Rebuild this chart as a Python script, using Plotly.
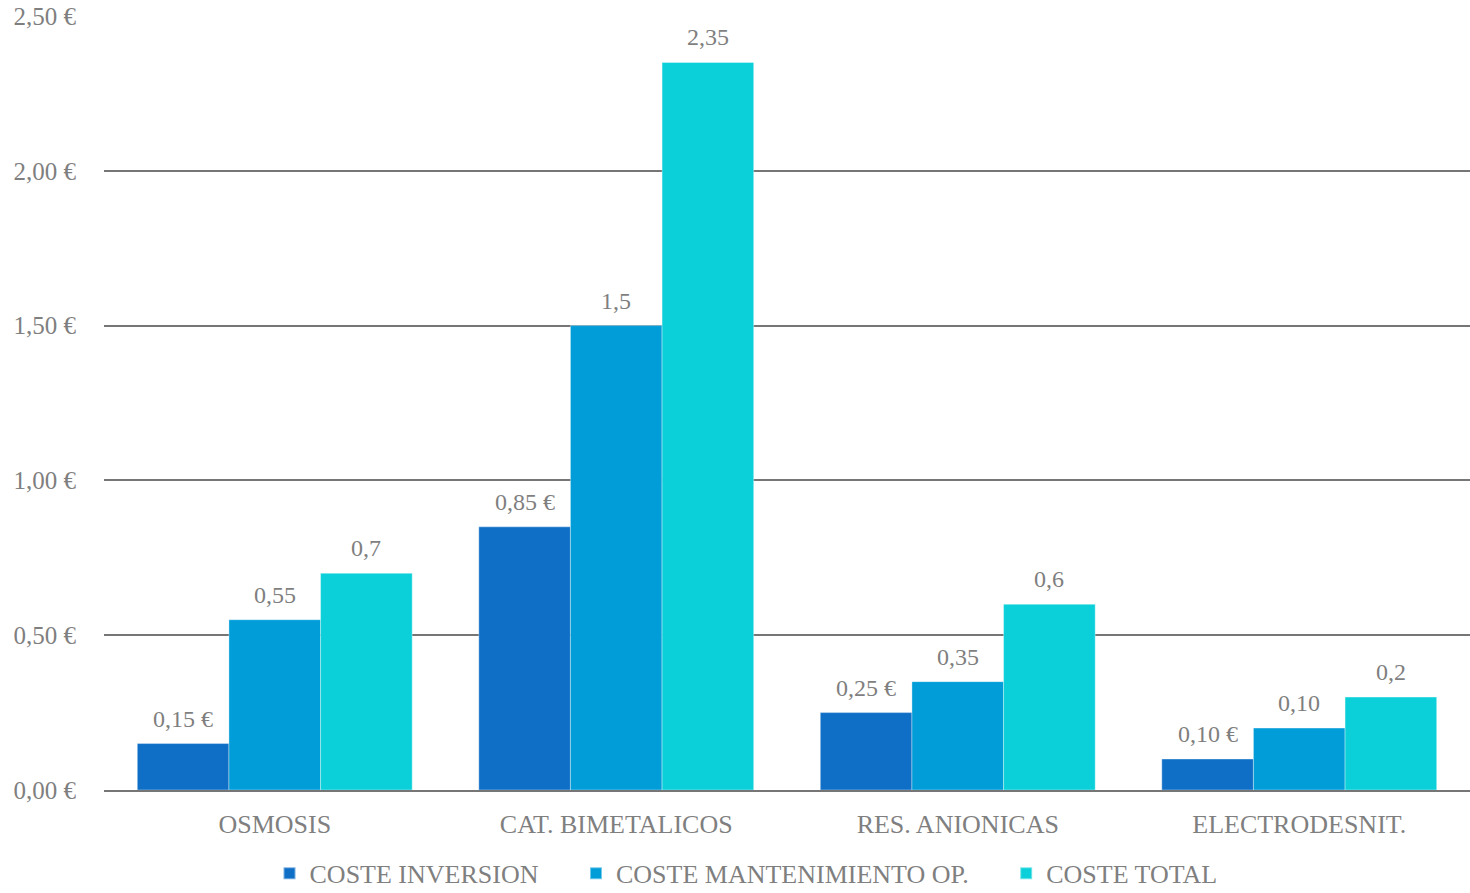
import plotly.graph_objects as go

categories = ["OSMOSIS", "CAT. BIMETALICOS", "RES. ANIONICAS", "ELECTRODESNIT."]
series_names = ["COSTE INVERSION", "COSTE MANTENIMIENTO OP.", "COSTE TOTAL"]
coste_inversion = [0.15, 0.85, 0.25, 0.10]
coste_mantenimiento = [0.55, 1.50, 0.35, 0.20]
coste_total = [0.70, 2.35, 0.60, 0.30]
labels_inversion = ["0,15 €", "0,85 €", "0,25 €", "0,10 €"]
labels_mantenimiento = ["0,55", "1,5", "0,35", "0,10"]
labels_total = ["0,7", "2,35", "0,6", "0,2"]
tick_vals = [0, 0.5, 1.0, 1.5, 2.0, 2.5]
tick_text = ["0,00 €", "0,50 €", "1,00 €", "1,50 €", "2,00 €", "2,50 €"]

colors = ["#0F6FC6", "#009DD9", "#0BD0D9"]
grey = "#7F7F7F"
font_family = "Liberation Serif, DejaVu Serif, serif"

values = [coste_inversion, coste_mantenimiento, coste_total]
labels = [labels_inversion, labels_mantenimiento, labels_total]
legend_names = [series_names[0] + "\u00a0" * 5, series_names[1] + "\u00a0" * 5, series_names[2]]

fig = go.Figure()
for name, vals, col in zip(legend_names, values, colors):
    fig.add_trace(go.Bar(
        x=categories, y=vals, name=name,
        marker=dict(color=col, line=dict(color="rgba(255,255,255,0.45)", width=0.8)),
        hoverinfo="x+y",
    ))

# data labels as annotations, offset per series within group
bar_px = 91.7
for i, (vals, labs) in enumerate(zip(values, labels)):
    for c, v, t in zip(categories, vals, labs):
        fig.add_annotation(
            x=c, y=v, text=t, showarrow=False,
            xshift=(i - 1) * bar_px, yshift=10, yanchor="bottom",
            font=dict(family=font_family, size=24, color=grey),
        )

fig.update_layout(
    width=1470, height=893,
    margin=dict(l=104, r=0, t=16, b=103, autoexpand=False),
    paper_bgcolor="#FFFFFF", plot_bgcolor="rgba(0,0,0,0)",
    barmode="group", bargap=0.195, bargroupgap=0,
    font=dict(family=font_family, color=grey),
    showlegend=True,
    legend=dict(
        orientation="h", x=0.470, xanchor="center",
        yref="container", y=0.022, yanchor="middle",
        font=dict(family=font_family, size=26, color=grey),
        bgcolor="rgba(0,0,0,0)", itemsizing="constant",
    ),
    xaxis=dict(
        showgrid=False, showline=True, linecolor="#767676", linewidth=2,
        tickfont=dict(family=font_family, size=26, color=grey),
        ticks="", ticklabelstandoff=10, automargin=False,
    ),
    yaxis=dict(
        range=[0, 2.5], tickvals=tick_vals, ticktext=tick_text,
        showgrid=True, gridcolor="#767676", gridwidth=2,
        zeroline=False, showline=False,
        tickfont=dict(family=font_family, size=25, color=grey),
        ticks="", ticklabelstandoff=27, automargin=False,
    ),
)

fig.write_html("out.html")
